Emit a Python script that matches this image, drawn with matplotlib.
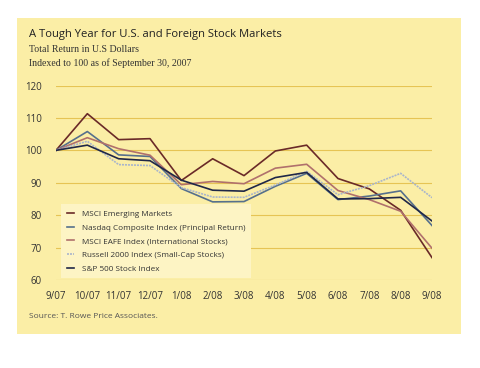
import matplotlib.pyplot as plt
from matplotlib.patches import Rectangle

# データ
months = ["9/07", "10/07", "11/07", "12/07", "1/08", "2/08", "3/08",
          "4/08", "5/08", "6/08", "7/08", "8/08", "9/08"]
msci_em = [100, 111.3, 103.3, 103.6, 90.7, 97.4, 92.2, 99.8, 101.6, 91.3, 88.1, 81.5, 66.9]
nasdaq = [100, 105.8, 98.6, 98.1, 88.2, 84.1, 84.2, 88.9, 92.9, 84.8, 85.9, 87.5, 76.8]
msci_eafe = [100, 103.9, 100.5, 98.5, 89.4, 90.4, 89.7, 94.5, 95.7, 87.6, 84.8, 81.2, 69.8]
russell = [100, 102.8, 95.6, 95.3, 88.5, 85.6, 85.5, 89.3, 93.5, 86.3, 89.1, 92.9, 85.4]
sp500 = [100, 101.6, 97.4, 96.8, 90.8, 87.7, 87.4, 91.6, 93.2, 85.0, 85.1, 85.5, 78.2]

series = [
    ("MSCI Emerging Markets", msci_em, "#6a2a28", "-"),
    ("Nasdaq Composite Index (Principal Return)", nasdaq, "#56708c", "-"),
    ("MSCI EAFE Index (International Stocks)", msci_eafe, "#b0706c", "-"),
    ("Russell 2000 Index (Small-Cap Stocks)", russell, "#a9b5cc", (0, (1.2, 0.6))),
    ("S&P 500 Stock Index", sp500, "#1f2748", "-"),
]

bg = "#fbeea6"
fig = plt.figure(figsize=(4.8, 3.68), dpi=100)
fig.patch.set_facecolor("white")
fig.patches.append(Rectangle((17 / 480, 1 - 334 / 368), 444 / 480, 316 / 368,
                             transform=fig.transFigure, facecolor=bg,
                             edgecolor="none", zorder=-10))

ax = fig.add_axes([56 / 480, 1 - 280 / 368, 376 / 480, 194.5 / 368])
ax.set_zorder(5)
ax.set_facecolor("none")
x = range(len(months))
for name, vals, col, ls in series:
    ax.plot(x, vals, color=col, linestyle=ls, linewidth=1.2, label=name)

ax.set_xlim(0, len(months) - 1)
ax.set_ylim(60, 120)
ax.set_yticks(range(60, 121, 10))
ax.set_xticks(list(x))
ax.set_xticklabels(months)
ax.grid(axis="y", color="#e6c454", linewidth=0.8)
ax.set_axisbelow(True)
for s in ax.spines.values():
    s.set_visible(False)
ax.tick_params(length=0, labelsize=7, colors="#333333")
ax.tick_params(axis="y", pad=10)
ax.tick_params(axis="x", pad=8)
for lab in ax.get_xticklabels() + ax.get_yticklabels():
    lab.set_family("Open Sans")

leg = ax.legend(loc="lower left", bbox_to_anchor=(0.003, -0.012), frameon=True,
                fancybox=False, handlelength=0.9, handletextpad=0.9,
                labelspacing=0.72, borderpad=0.7,
                prop={"family": "Open Sans", "size": 5.9})
leg.get_frame().set_facecolor("#fdf4c4")
leg.get_frame().set_edgecolor("none")
leg.get_frame().set_alpha(1)
for t in leg.get_texts():
    t.set_color("#333333")

# タイトル類
fig.text(29 / 480, 1 - 35 / 368, "A Tough Year for U.S. and Foreign Stock Markets",
         family="Open Sans", fontsize=8.1, color="#222222", va="center")
fig.text(29 / 480, 1 - 50 / 368, "Total Return in U.S Dollars",
         family="Liberation Serif", fontsize=7.1, color="#333333", va="center")
fig.text(29 / 480, 1 - 63 / 368, "Indexed to 100 as of September 30, 2007",
         family="Liberation Serif", fontsize=7.1, color="#333333", va="center")
fig.text(29 / 480, 1 - 317 / 368, "Source: T. Rowe Price Associates.",
         family="Open Sans", fontsize=6, color="#555555", va="center")

fig.savefig("out.png", dpi=100, facecolor="white")
